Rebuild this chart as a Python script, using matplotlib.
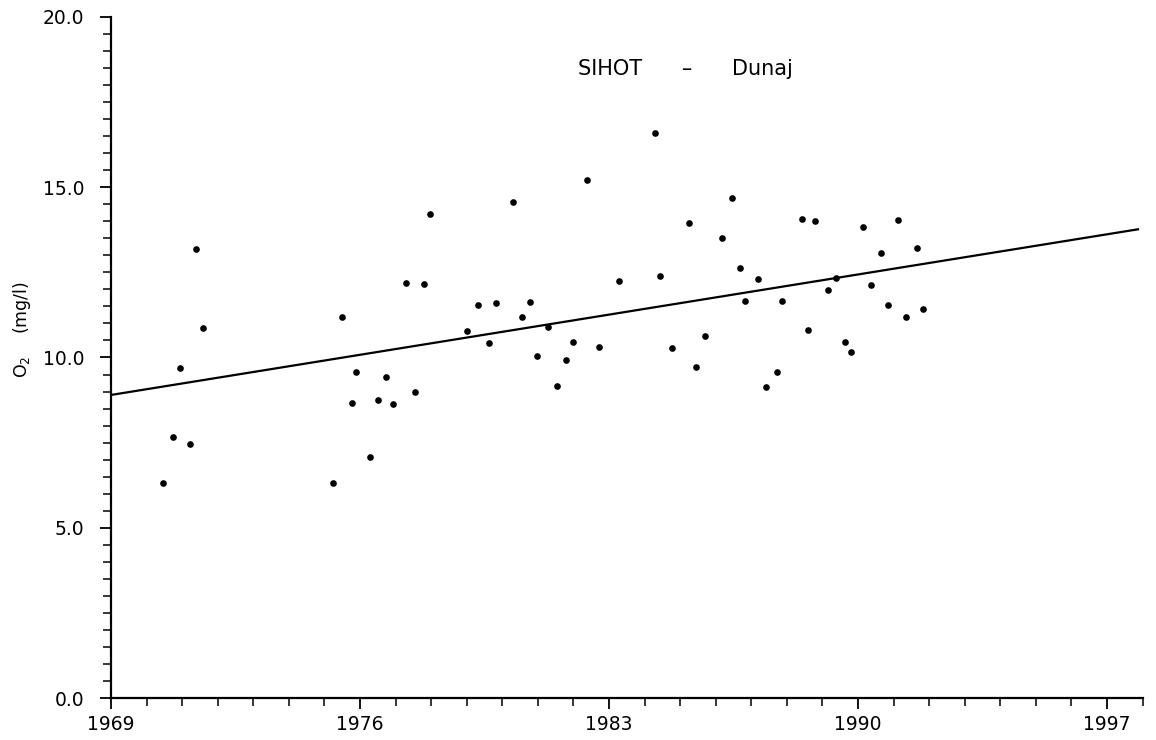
import matplotlib
matplotlib.use("Agg")
import matplotlib.pyplot as plt
from matplotlib.ticker import MultipleLocator, FixedLocator

# Dissolved oxygen measurements, station SIHOT on the Danube
years = [
    1970.45, 1970.74, 1970.93, 1971.23, 1971.38, 1971.58,
    1975.25, 1975.50, 1975.77, 1975.88, 1976.29, 1976.50, 1976.72, 1976.94,
    1977.30, 1977.55, 1977.80, 1977.96,
    1979.02, 1979.31, 1979.62, 1979.81, 1980.31, 1980.55, 1980.79, 1980.98,
    1981.28, 1981.54, 1981.80, 1981.98, 1982.37, 1982.73,
    1983.27, 1984.29, 1984.42, 1984.77, 1985.24, 1985.44, 1985.69,
    1986.19, 1986.45, 1986.67, 1986.83, 1987.20, 1987.42, 1987.71, 1987.85,
    1988.43, 1988.60, 1988.80, 1989.16, 1989.38, 1989.64, 1989.81,
    1990.14, 1990.36, 1990.66, 1990.85, 1991.12, 1991.34, 1991.65, 1991.82,
]
o2_values = [
    6.30, 7.67, 9.70, 7.45, 13.20, 10.87,
    6.30, 11.18, 8.66, 9.57, 7.08, 8.75, 9.44, 8.63,
    12.18, 9.00, 12.15, 14.21,
    10.77, 11.55, 10.43, 11.60, 14.56, 11.20, 11.62, 10.04,
    10.90, 9.17, 9.93, 10.45, 15.21, 10.32,
    12.25, 16.60, 12.39, 10.27, 13.96, 9.72, 10.63,
    13.51, 14.68, 12.64, 11.65, 12.31, 9.14, 9.57, 11.66,
    14.06, 10.82, 14.02, 11.99, 12.33, 10.45, 10.16,
    13.82, 12.13, 13.06, 11.53, 14.04, 11.19, 13.21, 11.42,
]

# Linear trend endpoints
trend_years = [1969.0, 1997.9]
trend_values = [8.90, 13.77]

x_major = [1969, 1976, 1983, 1990, 1997]
x_labels = ["1969", "1976", "1983", "1990", "1997"]
y_major = [0.0, 5.0, 10.0, 15.0, 20.0]
y_labels = ["0.0", "5.0", "10.0", "15.0", "20.0"]

plt.rcParams["font.family"] = ["DejaVu Sans"]

fig = plt.figure(figsize=(11.56, 7.40), dpi=100)
ax = fig.add_axes([111 / 1156, 42 / 740, 1031.6 / 1156, 681 / 740])

ax.plot(trend_years, trend_values, color="black", linewidth=1.6,
        solid_capstyle="butt", zorder=2)
ax.plot(years, o2_values, linestyle="none", marker="o", markersize=4.8,
        color="black", markeredgewidth=0, zorder=3)

ax.set_xlim(1969, 1998)
ax.set_ylim(0, 20)

ax.xaxis.set_major_locator(FixedLocator(x_major))
ax.set_xticklabels(x_labels)
ax.xaxis.set_minor_locator(MultipleLocator(1))
ax.yaxis.set_major_locator(FixedLocator(y_major))
ax.set_yticklabels(y_labels)
ax.yaxis.set_minor_locator(MultipleLocator(0.5))

for side in ("top", "right"):
    ax.spines[side].set_visible(False)
for side in ("left", "bottom"):
    ax.spines[side].set_linewidth(1.6)

ax.tick_params(axis="both", which="major", direction="out", length=8,
               width=1.3, labelsize=13.5, colors="black")
ax.tick_params(axis="both", which="minor", direction="out", length=5.5,
               width=1.1)
ax.tick_params(axis="y", which="major", pad=11)
ax.tick_params(axis="x", which="major", pad=4)

fig.text(685 / 1156, 1 - 69 / 740, "SIHOT      \u2013      Dunaj",
         ha="center", va="center", fontsize=15)
fig.text(22 / 1156, 1 - 330 / 740, "O$_2$    (mg/l)", rotation=90,
         ha="center", va="center", fontsize=12.5)

fig.savefig("out.png", dpi=100, facecolor="white")
